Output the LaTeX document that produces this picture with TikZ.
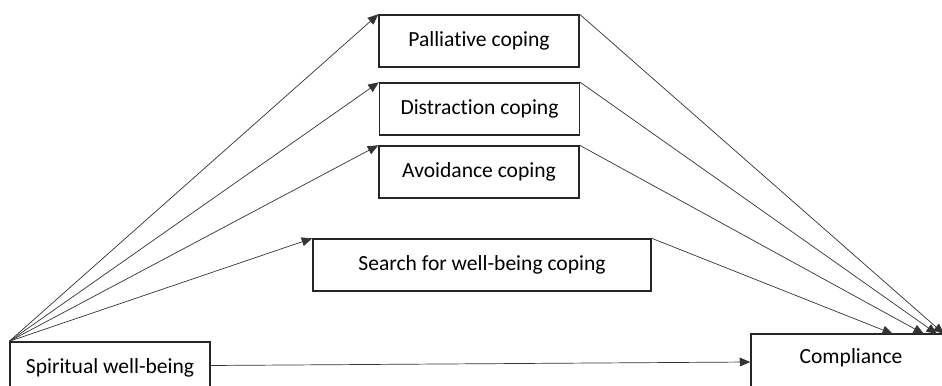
\documentclass[tikz,border=0pt]{standalone}
\usepackage{fontspec}
\setmainfont[Ligatures=NoCommon]{Carlito}
\usetikzlibrary{arrows.meta}

\begin{document}
\begin{tikzpicture}[x=0.03cm,y=0.03cm,
    box/.style={draw=black!85, line width=1.2pt, minimum width=200*0.03cm, minimum height=52*0.03cm, inner sep=0pt, font=\fontsize{18.4}{22}\selectfont},
    cutbox/.style={box, minimum height=0pt, anchor=base},
    link/.style={draw=black!80, line width=0.6pt, -{Triangle[length=9pt,width=7.5pt]}}]
    \useasboundingbox (0,0) rectangle (942,385);
    % boxes
    \node[box] (pall) at (479,344) {Palliative coping};
    \node[box] (dist) at (479.5,276) {Distraction coping};
    \node[box] (avoid) at (479,213) {Avoidance coping};
    \node[box, minimum width=338*0.03cm] (search) at (482,120) {Search for well-being coping};
    \node[cutbox, text height=31*0.03cm, text depth=16*0.03cm] (spirit) at (110,12) {Spiritual well-being};
    \node[cutbox, text height=29*0.03cm, text depth=27*0.03cm] (compl) at (851,22) {Compliance};
    % ends on top of compliance
    \coordinate (c1) at (944,51);
    \coordinate (c2) at (937,51);
    \coordinate (c3) at (924,51);
    \coordinate (c4) at (893,51);
    % arrows out of spiritual well-being
    \draw[link] (spirit.north west) -- (pall.north west);
    \draw[link] (spirit.north west) -- (dist.north west);
    \draw[link] (spirit.north west) -- (avoid.north west);
    \draw[link] (spirit.north west) -- (search.north west);
    \draw[link] (spirit.east) -- (compl.west);
    % arrows into compliance
    \draw[link] (pall.north east) -- (c1);
    \draw[link] (dist.north east) -- (c2);
    \draw[link] (avoid.north east) -- (c3);
    \draw[link] (search.north east) -- (c4);
\end{tikzpicture}
\end{document}
